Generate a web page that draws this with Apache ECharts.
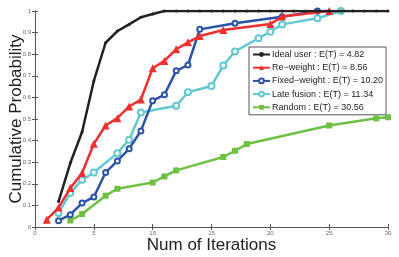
<!DOCTYPE html>
<html><head><meta charset="utf-8">
<script src="https://cdn.jsdelivr.net/npm/echarts@6/dist/echarts.min.js"></script>
<style>html,body{margin:0;padding:0;background:#fff}#c{width:399px;height:257px}</style>
</head><body><div id="c"></div>
<script>
var seriesNames = ['Ideal user : E(T) = 4.82','Re\u2212weight : E(T) = 8.56','Fixed\u2212weight : E(T) = 10.20','Late fusion : E(T) = 11.34','Random : E(T) = 30.56'];
var xTicks = [0,5,10,15,20,25,30];
var idealX = [2,3,4,5,6,7,8,9,10,11,12,13,14,15,16,17,18,19,20,21,22,23,24,25,26,27,28,29,30];
var idealY = [0.118,0.296,0.44,0.676,0.853,0.907,0.938,0.971,0.986,1,1,1,1,1,1,1,1,1,1,1,1,1,1,1,1,1,1,1,1];
var reX = [1,2,3,4,5,6,7,8,9,10,11,12,13,14,16,20,21,25];
var reY = [0.034,0.09,0.18,0.25,0.385,0.47,0.504,0.558,0.59,0.735,0.769,0.823,0.855,0.884,0.912,0.94,0.974,1.0];
var fixX = [2,3,4,5,6,7,8,9,10,11,12,13,14,17,21,24];
var fixY = [0.029,0.057,0.111,0.139,0.252,0.306,0.362,0.445,0.585,0.612,0.723,0.75,0.915,0.943,0.973,1.0];
var lateX = [2,3,4,5,7,8,9,12,13,15,16,17,19,20,21,24,26];
var lateY = [0.065,0.157,0.219,0.252,0.342,0.404,0.53,0.561,0.624,0.653,0.748,0.813,0.874,0.904,0.938,0.966,1.0];
var randX = [3,4,6,7,10,11,12,16,17,18,25,29,30];
var randY = [0.03,0.06,0.145,0.177,0.206,0.234,0.262,0.324,0.353,0.384,0.47,0.503,0.508];

function pairs(xs, ys){ return xs.map(function(x,i){ return [x, ys[i]]; }); }
var colors = ['#222222','#f03030','#2a52a8','#62c8d2','#6ec043'];
var symbols = ['circle','triangle','emptyCircle','emptyCircle','rect'];
var symSizes = [3,8,5,6,6];
var data = [pairs(idealX,idealY),pairs(reX,reY),pairs(fixX,fixY),pairs(lateX,lateY),pairs(randX,randY)];

var axisLine = {show:true, lineStyle:{color:'#555', width:1}};
var tickIn = {show:true, inside:true, length:3, lineStyle:{color:'#555'}};
var labelStyle = {fontSize:6, color:'#666', fontFamily:'Liberation Sans'};

var chart = echarts.init(document.getElementById('c'), null, {renderer:'canvas'});
chart.setOption({
  animation:false,
  backgroundColor:'#fff',
  grid:{left:35, right:11, top:11, bottom:30, containLabel:false, outerBoundsMode:'none'},
  legend:{
    data: seriesNames,
    orient:'vertical', left:249, top:47,
    backgroundColor:'#fff', borderColor:'#555', borderWidth:1,
    padding:[2,3,2,3], itemGap:2.2, itemWidth:17, itemHeight:6,
    textStyle:{fontSize:9, lineHeight:11, color:'#222', fontFamily:'Liberation Sans', padding:[0,0,0,-3]}
  },
  xAxis:[
    {type:'value', min:0, max:30, interval:5, position:'bottom',
     axisLine:axisLine, axisTick:tickIn, splitLine:{show:false},
     axisLabel:Object.assign({margin:3}, labelStyle),
     name:'Num of Iterations', nameLocation:'middle', nameGap:10, nameMoveOverlap:false,
     nameTextStyle:{fontSize:17, color:'#222', fontFamily:'Liberation Sans'}},
    {type:'value', min:0, max:30, interval:5, position:'top',
     axisLine:axisLine, axisTick:tickIn, axisLabel:{show:false}, splitLine:{show:false}}
  ],
  yAxis:[
    {type:'value', min:0, max:1, interval:0.1, position:'left',
     axisLine:axisLine, axisTick:tickIn, splitLine:{show:false},
     axisLabel:Object.assign({margin:4}, labelStyle),
     name:'Cumulative Probability', nameLocation:'middle', nameGap:10, nameMoveOverlap:false,
     nameTextStyle:{fontSize:17, color:'#222', fontFamily:'Liberation Sans'}},
    {type:'value', min:0, max:1, interval:0.1, position:'right',
     axisLine:axisLine, axisTick:tickIn, axisLabel:{show:false}, splitLine:{show:false}}
  ],
  series: seriesNames.map(function(n,i){
    return {
      name:n, type:'line', data:data[i], xAxisIndex:0, yAxisIndex:0,
      symbol:symbols[i], symbolSize:symSizes[i], showSymbol:true,
      lineStyle:{color:colors[i], width:2.5},
      itemStyle:{color:colors[i], borderColor:colors[i], borderWidth: (symbols[i]==='emptyCircle'?1.5:0)},
      z: 10 - i
    };
  })
});
</script></body></html>
